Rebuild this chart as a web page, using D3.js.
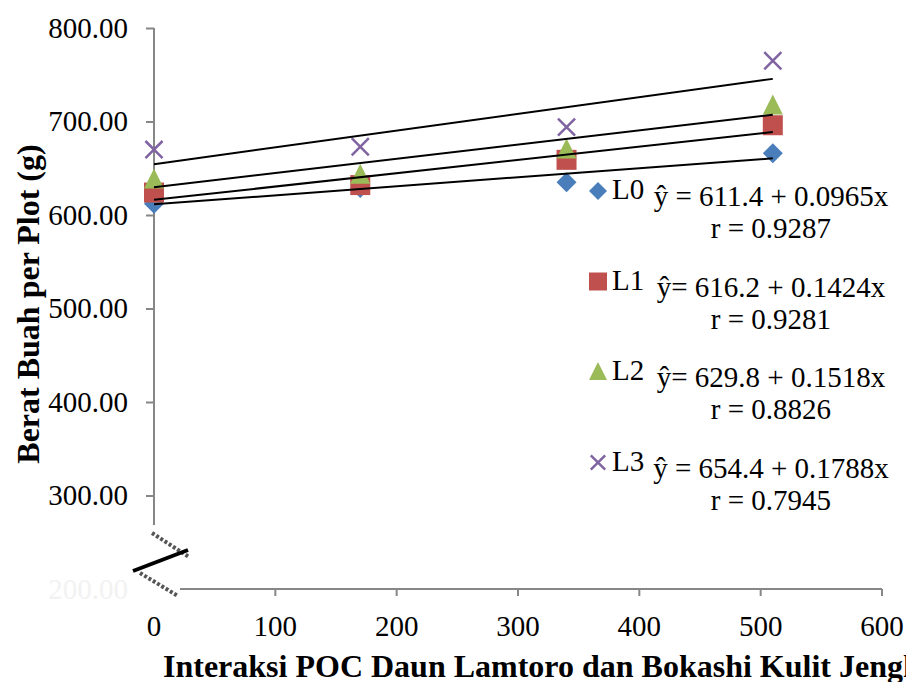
<!DOCTYPE html>
<html>
<head>
<meta charset="utf-8">
<script src="https://cdn.jsdelivr.net/npm/d3@7"></script>
<style>
  body { margin: 0; background: #fff; }
  svg { display: block; }
  text { font-family: "Liberation Serif", "Times New Roman", serif; fill: #000; }
</style>
</head>
<body>
<svg id="chart" width="906" height="682"></svg>
<script>
// data
const xValues = [0, 170, 340, 510];
const seriesNames = ["L0", "L1", "L2", "L3"];
const valuesL0 = [612, 629, 635, 666];
const valuesL1 = [624, 632, 659, 696];
const valuesL2 = [638, 643, 670, 717];
const valuesL3 = [670, 673, 694, 765];
const intercepts = [611.4, 616.2, 629.8, 654.4];
const slopes = [0.0965, 0.1424, 0.1518, 0.1788];
const equations = ["ŷ = 611.4 + 0.0965x", "ŷ= 616.2 + 0.1424x", "ŷ= 629.8 + 0.1518x", "ŷ = 654.4 + 0.1788x"];
const rLabels = ["r = 0.9287", "r = 0.9281", "r = 0.8826", "r = 0.7945"];
const yTicks = [300, 400, 500, 600, 700, 800];
const xTicks = [100, 200, 300, 400, 500, 600];
const xLabelTicks = [0, 100, 200, 300, 400, 500, 600];

const allValues = [valuesL0, valuesL1, valuesL2, valuesL3];
const colors = ["#4a7ebb", "#c0504d", "#9bbb59", "#8064a2"];
const shapes = ["diamond", "square", "triangle", "cross"];

const svg = d3.select("#chart");
const x = d3.scaleLinear().domain([0, 600]).range([154, 882]);
const y = d3.scaleLinear().domain([200, 800]).range([589, 28]);
const axisColor = "#878787";

// marker helper
function marker(g, shape, cx, cy, s, color) {
  const h = s / 2;
  if (shape === "diamond") {
    g.append("path").attr("d", `M${cx},${cy - h}L${cx + h},${cy}L${cx},${cy + h}L${cx - h},${cy}Z`).attr("fill", color);
  } else if (shape === "square") {
    g.append("rect").attr("x", cx - h).attr("y", cy - h).attr("width", s).attr("height", s).attr("fill", color);
  } else if (shape === "triangle") {
    g.append("path").attr("d", `M${cx},${cy - h * 1.1}L${cx + h},${cy + h * 0.9}L${cx - h},${cy + h * 0.9}Z`).attr("fill", color);
  } else {
    const k = h * 0.9;
    g.append("path").attr("d", `M${cx - k},${cy - k}L${cx + k},${cy + k}M${cx + k},${cy - k}L${cx - k},${cy + k}`)
      .attr("stroke", color).attr("stroke-width", 2.5).attr("fill", "none");
  }
}

// y axis
const yAxis = svg.append("g").attr("transform", `translate(${x(0)},0)`)
  .call(d3.axisLeft(y).tickValues(yTicks).tickSize(8).tickPadding(18).tickFormat(d3.format(".2f")));
yAxis.attr("font-family", null);
yAxis.select(".domain").remove();
yAxis.selectAll(".tick line").attr("stroke", axisColor).attr("stroke-width", 2);
yAxis.selectAll("text").attr("font-size", 29);
svg.append("line").attr("x1", x(0)).attr("x2", x(0)).attr("y1", y(800)).attr("y2", 525)
  .attr("stroke", axisColor).attr("stroke-width", 2);
// faint label under the break
svg.append("text").attr("x", 128).attr("y", y(200)).attr("dy", "0.35em").attr("text-anchor", "end")
  .attr("font-size", 29).style("fill", "#f2f2f2").text("200.00");

// x axis
svg.append("line").attr("x1", 180).attr("x2", x(600)).attr("y1", y(200)).attr("y2", y(200))
  .attr("stroke", axisColor).attr("stroke-width", 2);
svg.append("g").selectAll("line").data(xTicks).join("line")
  .attr("x1", d => x(d)).attr("x2", d => x(d)).attr("y1", y(200)).attr("y2", y(200) + 7)
  .attr("stroke", axisColor).attr("stroke-width", 2);
svg.append("g").selectAll("text").data(xLabelTicks).join("text")
  .attr("x", d => x(d)).attr("y", 636).attr("text-anchor", "middle").attr("font-size", 29)
  .text(d => d);

// axis break
const brk = svg.append("g");
brk.append("line").attr("x1", 152).attr("y1", 533).attr("x2", 189).attr("y2", 557)
  .attr("stroke", "#555").attr("stroke-width", 4).attr("stroke-dasharray", "3,2");
brk.append("line").attr("x1", 140).attr("y1", 573).attr("x2", 178).attr("y2", 596)
  .attr("stroke", "#555").attr("stroke-width", 4).attr("stroke-dasharray", "3,2");
brk.append("line").attr("x1", 133).attr("y1", 571).attr("x2", 188).attr("y2", 550)
  .attr("stroke", "#000").attr("stroke-width", 4);

// markers
const pts = svg.append("g");
allValues.forEach((vals, i) => {
  vals.forEach((v, j) => marker(pts, shapes[i], x(xValues[j]), y(v), i === 3 ? 19 : 20, colors[i]));
});

// trend lines
svg.append("g").selectAll("line").data(intercepts).join("line")
  .attr("x1", x(0)).attr("y1", d => y(d))
  .attr("x2", x(510)).attr("y2", (d, i) => y(d + slopes[i] * 510))
  .attr("stroke", "#000").attr("stroke-width", 2);

// legend with equations
const leg = svg.append("g");
seriesNames.forEach((name, i) => {
  const by = 199 + i * 90.5;
  marker(leg, shapes[i], 598, by - 8, i === 3 ? 16 : 18, colors[i]);
  leg.append("text").attr("x", 612).attr("y", by).attr("font-size", 29).text(name);
  leg.append("text").attr("x", 771).attr("y", by + 7).attr("text-anchor", "middle").attr("font-size", 29).text(equations[i]);
  leg.append("text").attr("x", 771).attr("y", by + 39).attr("text-anchor", "middle").attr("font-size", 29).text(rLabels[i]);
});

// axis titles
svg.append("text").attr("x", 163).attr("y", 677).attr("font-size", 32).attr("font-weight", "bold")
  .text("Interaksi POC Daun Lamtoro dan Bokashi Kulit Jengkol");
svg.append("text").attr("transform", `translate(39,304) rotate(-90)`).attr("text-anchor", "middle")
  .attr("font-size", 32).attr("font-weight", "bold").text("Berat Buah per Plot (g)");
</script>
</body>
</html>
